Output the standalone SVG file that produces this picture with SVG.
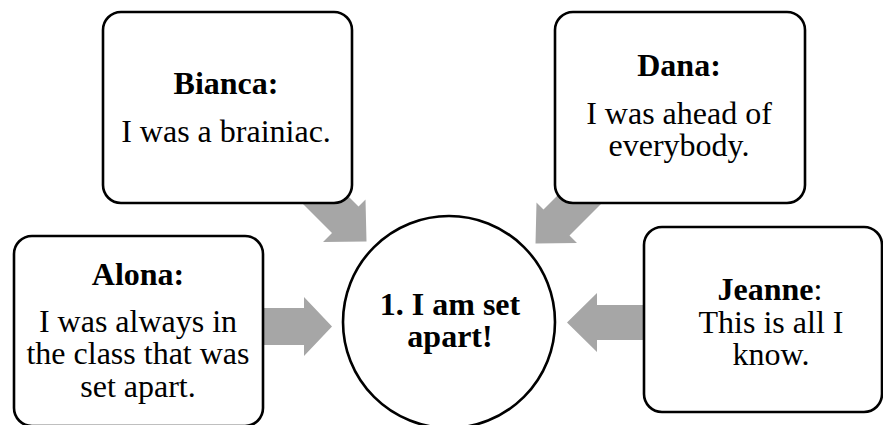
<svg xmlns="http://www.w3.org/2000/svg" width="883" height="425" viewBox="0 0 883 425">
<style>
.box{fill:#fff;stroke:#000;stroke-width:2.6}
.arr{fill:#a6a6a6;stroke:none}
text{font-family:"Liberation Serif","Times New Roman",serif;font-size:32px;fill:#000;text-anchor:middle}
.b{font-weight:bold}
</style>
<rect width="883" height="425" fill="#fff"/>
<g id="connectors">
<polygon class="arr" points="284.5,185.5 332,233 323,242 366.5,241.5 365.5,199.5 358.5,206.5 311,159"/>
<polygon class="arr" points="586.5,166.5 543.5,209.5 536.5,202.5 535.5,243.5 577,243 569.5,235.5 612.5,192.5"/>
<polygon class="arr" points="255,308 304,308 304,297 332,326.5 304,356 304,345 255,345"/>
<polygon class="arr" points="655,305 597,305 597,293 567,322.5 597,352 597,340 655,340"/>
</g>
<g id="bianca">
<rect class="box" x="103" y="12" width="249" height="191" rx="18"/>
<text x="226" y="94" class="b">Bianca:</text>
<text x="226" y="141.5">I was a brainiac.</text>
</g>
<g id="dana">
<rect class="box" x="555" y="12" width="250" height="191" rx="18"/>
<text x="679" y="76" class="b">Dana:</text>
<text x="679" y="124">I was ahead of</text>
<text x="679" y="156">everybody.</text>
</g>
<g id="alona">
<rect class="box" x="14" y="236" width="249" height="190" rx="18"/>
<text x="138" y="285" class="b">Alona:</text>
<text x="138" y="331.5">I was always in</text>
<text x="138" y="363.5">the class that was</text>
<text x="138" y="396.5">set apart.</text>
</g>
<g id="jeanne">
<rect class="box" x="644" y="227" width="238" height="185" rx="18"/>
<text x="770" y="300"><tspan class="b">Jeanne</tspan>:</text>
<text x="771" y="332.5">This is all I</text>
<text x="771" y="365">know.</text>
</g>
<g id="center">
<circle class="box" cx="449" cy="322" r="106"/>
<text x="450" y="315" class="b">1. I am set</text>
<text x="450" y="346.5" class="b">apart!</text>
</g>
</svg>
